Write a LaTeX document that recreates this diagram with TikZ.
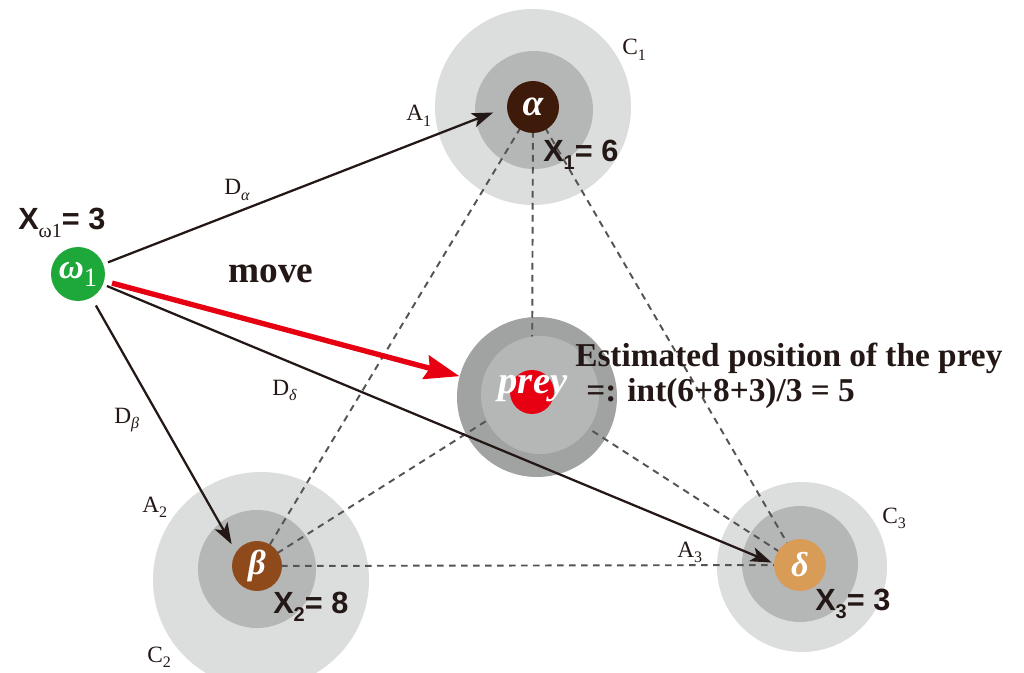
\documentclass[tikz,border=0pt]{standalone}
\usepackage{fontspec}
\setmainfont{Liberation Serif}
\newfontfamily\arialf{Liberation Sans}
\usetikzlibrary{arrows.meta}
\definecolor{ink}{HTML}{231815}
\definecolor{lightring}{HTML}{DCDDDD}
\definecolor{midring}{HTML}{B5B7B7}
\definecolor{preyout}{HTML}{A0A3A2}
\definecolor{preyin}{HTML}{B5B7B6}
\definecolor{alphaC}{HTML}{3E1A0B}
\definecolor{betaC}{HTML}{8F4A1C}
\definecolor{deltaC}{HTML}{D99C57}
\definecolor{omegaC}{HTML}{1EA83A}
\definecolor{redC}{HTML}{E60012}
\definecolor{dgray}{HTML}{555353}
\newcommand\fs[1]{\fontsize{#1}{#1}\selectfont}
\newcommand\sbx[1]{\raisebox{-4pt}{\fs{12}#1}}
\newcommand\xsb[1]{\raisebox{-6pt}{\fs{15}#1}}
\pgfdeclarelayer{bg}
\pgfdeclarelayer{mid}
\pgfsetlayers{bg,mid,main}
\begin{document}
\begin{tikzpicture}[x=0.75pt,y=-0.75pt,
  ring/.style={circle, draw=none, inner sep=0pt},
  dot/.style={circle, draw=none, inner sep=0pt, text=white, font={\bfseries\itshape\fs{28}}},
  lbl/.style={anchor=base west, inner sep=0pt, text=ink, font={\fs{17.5}}},
  xlbl/.style={anchor=base west, inner sep=0pt, text=ink, font={\arialf\bfseries\fs{23}}},
  dashline/.style={draw=dgray, line width=1.45pt, dash pattern=on 5pt off 4pt},
  arr/.style={draw=ink, line width=1.7pt, -{Stealth[length=16pt,width=11pt,inset=4pt]}},
  redarr/.style={draw=redC, line width=4pt, -{Stealth[length=26pt,width=18pt,inset=3pt]}}]
\useasboundingbox (0,0) rectangle (1024,673);

% rings
\begin{pgfonlayer}{bg}
\fill[white] (0,0) rectangle (1024,673);
\node[ring, fill=lightring, minimum size=147pt] (alphaOuter) at (533,107) {};
\node[ring, fill=midring, minimum size=88.5pt] (alphaInner) at (534,110) {};
\node[ring, fill=lightring, minimum size=162pt] (betaOuter) at (261,580) {};
\node[ring, fill=midring, minimum size=88.5pt] (betaInner) at (257,569) {};
\node[ring, fill=lightring, minimum size=127.5pt] (deltaOuter) at (802,567) {};
\node[ring, fill=midring, minimum size=87pt] (deltaInner) at (800,564) {};
\node[ring, fill=preyout, minimum size=120pt] (preyOuter) at (537,397) {};
\end{pgfonlayer}

% prey inner ring and agents
\node[ring, fill=preyin, minimum size=88.5pt] (preyInner) at (540,395) {};
\node[dot, fill=alphaC, minimum size=39pt] (alpha) at (533,107) {α};
\node[dot, fill=betaC, minimum size=37.5pt] (beta) at (257,566) {\fs{26}β};
\node[dot, fill=deltaC, minimum size=39pt] (delta) at (800,565) {\fs{26}δ};
\node[dot, fill=omegaC, minimum size=40.5pt] (omega) at (78,274) {\fs{26}ω\raisebox{-6pt}{\mdseries\upshape\fs{20}1}};
\node[dot, fill=redC, minimum size=33pt] (prey) at (532,392) {};
\node[inner sep=0pt, text=white, font={\bfseries\itshape\fs{29}}] (preytext) at (533,389) {prey};

% dashed links
\begin{pgfonlayer}{mid}
\draw[dashline] (alpha.center) -- (prey.center);
\draw[dashline] (alpha.center) -- (beta.center);
\draw[dashline] (alpha.center) -- (delta.center);
\draw[dashline] (beta.center) -- (prey.center);
\draw[dashline] (beta.center) -- (delta.center);
\draw[dashline] (prey.center) -- (delta.center);
\end{pgfonlayer}

% arrows
\draw[arr, shorten <=3.75pt, shorten >=32pt] (omega) -- ([yshift=7.5pt]alpha.center);
\draw[arr, shorten <=6.75pt, shorten >=18.75pt] (omega) -- ([xshift=-9.75pt]beta.center);
\draw[arr, shorten <=3pt, shorten >=23pt] (omega) -- ([yshift=-7pt]delta.center);
\draw[redarr, shorten <=6pt] (omega) -- (preyOuter);

% labels
\node[lbl] (C1) at (622,55) {C\sbx{1}};
\node[lbl] (A1) at (406,121) {A\sbx{1}};
\node[lbl] (Da) at (224,195) {D\sbx{\textit{α}}};
\node[lbl] (Dd) at (272,395) {D\sbx{\textit{δ}}};
\node[lbl] (Db) at (114,423) {D\sbx{\textit{β}}};
\node[lbl] (A2) at (142,512) {A\sbx{2}};
\node[lbl] (C2) at (147,662) {C\sbx{2}};
\node[lbl] (A3) at (677,557) {A\sbx{3}};
\node[lbl] (C3) at (882,523) {C\sbx{3}};

\node[xlbl] (X1) at (543,162) {X\xsb{1}= 6};
\node[xlbl] (X2) at (273,613) {X\xsb{2}= 8};
\node[xlbl] (X3) at (815,610) {X\xsb{3}= 3};
\node[xlbl] (Xw) at (18,230) {X\raisebox{-6pt}{\rmfamily\mdseries\fs{15}ω1}= 3};

\node[anchor=base west, inner sep=0pt, text=ink, font={\bfseries\fs{28}}] (move) at (228,283) {move};
\node[anchor=base west, inner sep=0pt, text=ink, font={\bfseries\fs{25}}] (est1) at (575,367) {Estimated position of the prey};
\node[anchor=base west, inner sep=0pt, text=ink, font={\bfseries\fs{25}}] (est2) at (586,402) {=: int(6+8+3)/3 = 5};
\end{tikzpicture}
\end{document}
